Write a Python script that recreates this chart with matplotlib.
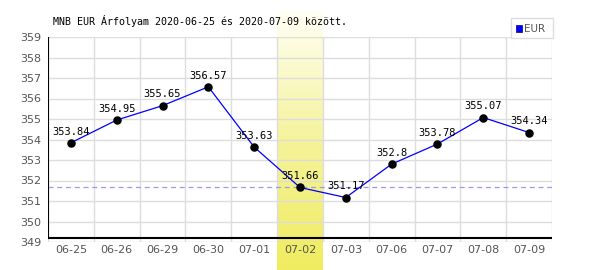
import matplotlib
matplotlib.use("Agg")
import matplotlib.pyplot as plt
import matplotlib.patches as patches
from matplotlib.colors import LinearSegmentedColormap
import numpy as np

dates = ["06-25", "06-26", "06-29", "06-30", "07-01", "07-02",
         "07-03", "07-06", "07-07", "07-08", "07-09"]
rates = [353.84, 354.95, 355.65, 356.57, 353.63, 351.66,
         351.17, 352.8, 353.78, 355.07, 354.34]
rate_labels = ["353.84", "354.95", "355.65", "356.57", "353.63", "351.66",
               "351.17", "352.8", "353.78", "355.07", "354.34"]
highlight = "07-02"
title = "MNB EUR Árfolyam 2020-06-25 és 2020-07-09 között."

W, H = 600, 270
fig = plt.figure(figsize=(6, 2.7), dpi=100)

ax_l, ax_r = 48 / W, 552 / W
ax_b, ax_t = 1 - 242 / H, 1 - 37 / H
n = len(dates)
colw = (ax_r - ax_l) / n
hi = dates.index(highlight)

# gradient band behind the highlighted day (full figure height)
band = fig.add_axes([ax_l + hi * colw, 0, colw, 1 - 10 / H], zorder=0)
grad = np.linspace(0, 1, 256).reshape(-1, 1)
cmap = LinearSegmentedColormap.from_list("y", ["#f0ec60", "#f5f39a", "#fffff6"])
band.imshow(grad, aspect="auto", cmap=cmap, origin="lower", extent=[0, 1, 0, 1])
band.axis("off")

ax = fig.add_axes([ax_l, ax_b, ax_r - ax_l, ax_t - ax_b], zorder=1)
ax.patch.set_alpha(0)
x = np.arange(n)
ax.set_xlim(-0.5, n - 0.5)
ax.set_ylim(349, 359)

for v in range(349, 360):
    ax.axhline(v, color="#dddddd", lw=1, zorder=1)
for i in range(n + 1):
    ax.axvline(i - 0.5, color="#dddddd", lw=1, zorder=1)

ax.axhline(rates[hi], color="#9999ee", lw=0.9, ls=(0, (4, 3)), zorder=2)
ax.plot(x, rates, color="#0000ff", lw=0.9, zorder=3)
ax.scatter(x, rates, s=26, color="black", zorder=4)
for xi, v, t in zip(x, rates, rate_labels):
    ax.annotate(t, (xi, v), xytext=(0, 4.5), textcoords="offset points",
                ha="center", va="bottom", fontsize=7.5,
                family="DejaVu Sans Mono", color="black", zorder=5)

ax.axhline(349.2, color="black", lw=1.5, zorder=3)
ax.axvline(-0.5, ymin=0.02, color="black", lw=1.5, zorder=3)

for s in ax.spines.values():
    s.set_visible(False)
ax.set_xticks(x)
ax.set_xticklabels(dates)
ax.set_yticks(range(349, 360))
ax.tick_params(length=0, labelsize=8, colors="#555555", pad=5)
ax.tick_params(axis="x", pad=2)

fig.text(53 / W, 1 - 21 / H, title, fontsize=7.2, family="DejaVu Sans Mono",
         ha="left", va="center", color="black")

# legend box
leg = patches.Rectangle((511 / W, 1 - 38 / H), 42 / W, 20 / H,
                        transform=fig.transFigure, facecolor="white",
                        edgecolor="#dddddd", lw=1, zorder=5)
fig.add_artist(leg)
sq = patches.Rectangle((516 / W, 1 - 32 / H), 6 / W, 7 / H,
                       transform=fig.transFigure, facecolor="#0000ff",
                       edgecolor="#000066", lw=0.5, zorder=6)
fig.add_artist(sq)
fig.text(524 / W, 1 - 28.5 / H, "EUR", fontsize=7.5, color="#555555",
         ha="left", va="center", zorder=6)

fig.savefig("out.png", dpi=100)
